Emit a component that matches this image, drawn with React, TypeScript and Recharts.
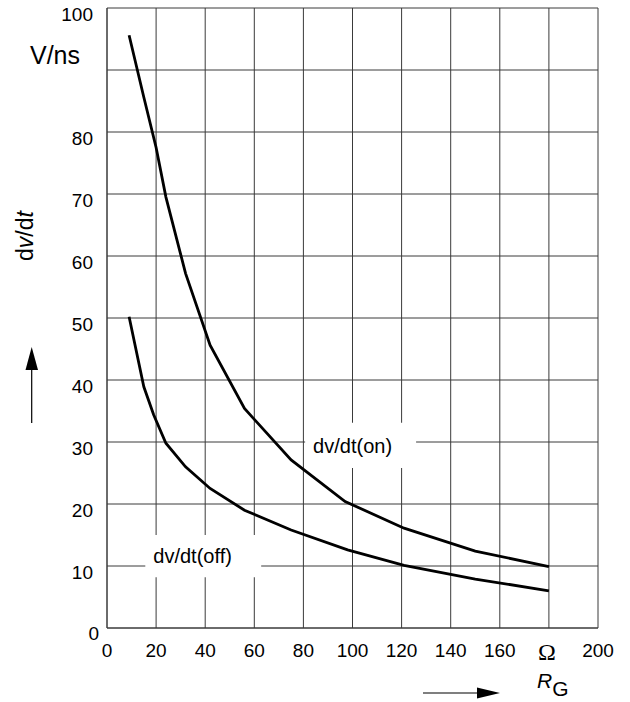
import React from "react";
import {
  LineChart,
  Line,
  XAxis,
  YAxis,
  CartesianGrid,
  ReferenceArea,
} from "recharts";

// gate resistance R_G (Ohm) and dv/dt (V/ns)
const rOn = [9, 15, 20, 24, 32, 42, 56, 75, 97, 121, 150, 180];
const dvdtOn = [95.6, 85.6, 77.5, 69.5, 57.2, 45.6, 35.4, 27.1, 20.4, 16.1, 12.4, 9.9];

const rOff = [9, 15, 19, 24, 32, 42, 56, 75, 98, 121, 150, 180];
const dvdtOff = [50.2, 38.9, 34.4, 29.8, 26, 22.5, 19, 15.8, 12.6, 10.1, 7.9, 6.0];

const xTicks = [0, 20, 40, 60, 80, 100, 120, 140, 160, 180, 200];
const yTicks = [0, 10, 20, 30, 40, 50, 60, 70, 80, 90, 100];

// tick positions that carry the unit instead of a number
const xUnitTick = 180;
const xUnit = "\u03a9";
const yUnitTick = 90;
const yUnit = "V/ns";

const onData = rOn.map((r, i) => ({ r, v: dvdtOn[i] }));
const offData = rOff.map((r, i) => ({ r, v: dvdtOff[i] }));

const SANS = "'Liberation Sans', Arial, Helvetica, sans-serif";
const GRID = "#3a3a3a";

function YTick({ x, y, payload }: any) {
  if (payload.value === yUnitTick) {
    return (
      <text x={x - 27} y={y - 15} textAnchor="end" dominantBaseline="central" fontSize={25} fontFamily={SANS} fill="#000">
        {yUnit}
      </text>
    );
  }
  const zero = payload.value === 0;
  return (
    <text
      x={zero ? x - 8 : x - 14}
      y={zero ? y + 5 : y + 6}
      textAnchor="end"
      dominantBaseline="central"
      fontSize={19}
      fontFamily={SANS}
      fill="#000"
    >
      {payload.value}
    </text>
  );
}

function XTick({ x, y, payload }: any) {
  if (payload.value === xUnitTick) {
    return (
      <text x={x - 2} y={y + 24} textAnchor="middle" dominantBaseline="central" fontSize={24} fontFamily="'Liberation Serif', 'Times New Roman', serif" fill="#000">
        {xUnit}
      </text>
    );
  }
  return (
    <text x={x} y={y + 22} textAnchor="middle" dominantBaseline="central" fontSize={19} fontFamily={SANS} fill="#000">
      {payload.value}
    </text>
  );
}

const curveLabel = (text: string) => ({
  value: text,
  position: "insideLeft" as const,
  offset: 8,
  fontSize: 20,
  fontFamily: SANS,
  fill: "#000",
});

export default function App() {
  return (
    <div style={{ position: "absolute", left: 0, top: 0, width: 630, height: 702, background: "#fff" }}>
      <LineChart width={630} height={702} margin={{ top: 8, right: 32, bottom: 0, left: 0 }}>
        <CartesianGrid stroke={GRID} strokeWidth={1} />
        <XAxis
          type="number"
          dataKey="r"
          domain={[0, 200]}
          ticks={xTicks}
          height={74}
          tickSize={0}
          tickMargin={0}
          tickLine={false}
          axisLine={{ stroke: GRID }}
          tick={XTick}
          interval={0}
        />
        <YAxis
          type="number"
          dataKey="v"
          domain={[0, 100]}
          ticks={yTicks}
          width={107}
          tickSize={0}
          tickMargin={0}
          tickLine={false}
          axisLine={{ stroke: GRID }}
          tick={YTick}
          interval={0}
        />
        <ReferenceArea x1={80.7} x2={125.9} y1={25.8} y2={33.1} fill="#fff" fillOpacity={1} stroke="none" label={curveLabel("dv/dt(on)")} />
        <ReferenceArea x1={15.6} x2={62.8} y1={8.2} y2={15} fill="#fff" fillOpacity={1} stroke="none" label={curveLabel("dv/dt(off)")} />
        <Line data={onData} dataKey="v" type="linear" stroke="#000" strokeWidth={2.8} dot={false} isAnimationActive={false} />
        <Line data={offData} dataKey="v" type="linear" stroke="#000" strokeWidth={2.8} dot={false} isAnimationActive={false} />
      </LineChart>
      <svg width={630} height={702} style={{ position: "absolute", left: 0, top: 0, pointerEvents: "none" }}>
        <text transform="translate(33,236) rotate(-90)" textAnchor="middle" fontSize={23} fontFamily={SANS} fill="#000">
          d<tspan fontStyle="italic">v</tspan>/d<tspan fontStyle="italic">t</tspan>
        </text>
        <line x1={31.7} y1={423} x2={31.7} y2={368} stroke="#000" strokeWidth={1.2} />
        <polygon points="31.7,347 25.5,370 38,370" fill="#000" />
        <line x1={423} y1={693} x2={478} y2={693} stroke="#000" strokeWidth={1.2} />
        <polygon points="500,693 477,687.5 477,698.5" fill="#000" />
        <text x={537} y={688} fontSize={21} fontFamily={SANS} fill="#000">
          <tspan fontStyle="italic">R</tspan>
          <tspan dy={8}>G</tspan>
        </text>
      </svg>
    </div>
  );
}
